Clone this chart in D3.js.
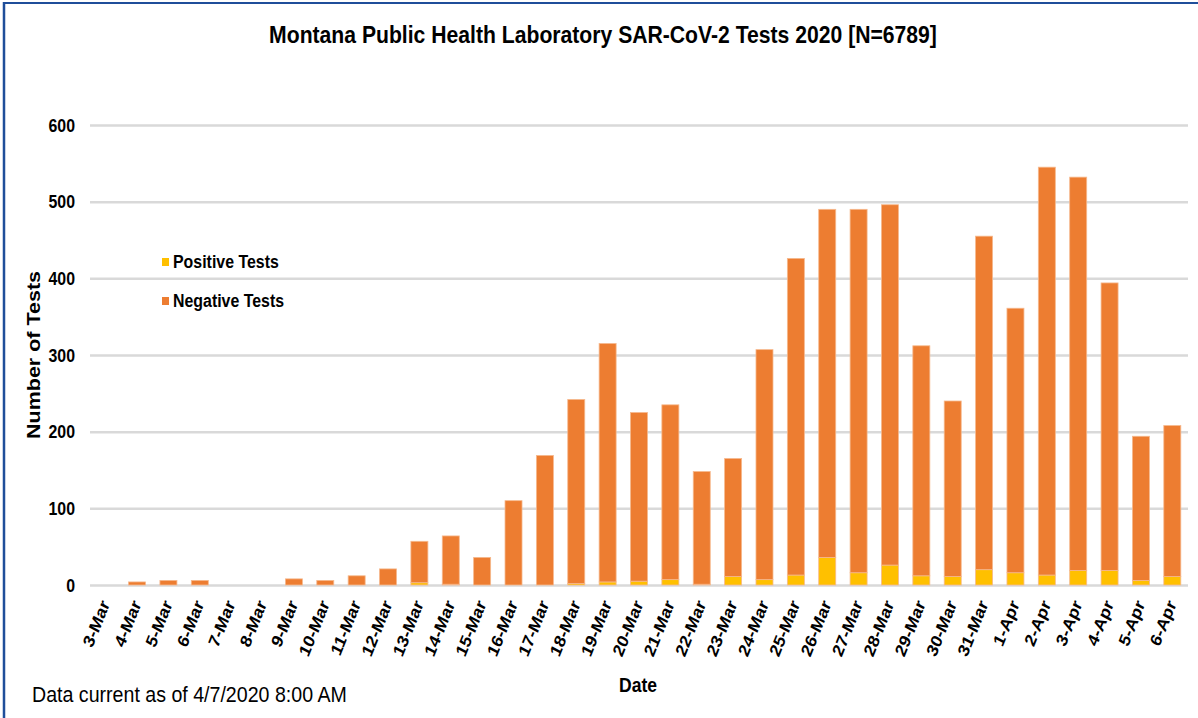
<!DOCTYPE html>
<html>
<head>
<meta charset="utf-8">
<script src="https://cdn.jsdelivr.net/npm/d3@7"></script>
<style>
  html, body { margin: 0; padding: 0; background: #fff; }
  svg { display: block; font-family: "Liberation Sans", Arial, sans-serif; }
</style>
</head>
<body>
<svg id="chart" width="1198" height="718"></svg>
<script>
// ---- Data ----
const dates = ['3-Mar','4-Mar','5-Mar','6-Mar','7-Mar','8-Mar','9-Mar','10-Mar','11-Mar','12-Mar',
  '13-Mar','14-Mar','15-Mar','16-Mar','17-Mar','18-Mar','19-Mar','20-Mar','21-Mar','22-Mar',
  '23-Mar','24-Mar','25-Mar','26-Mar','27-Mar','28-Mar','29-Mar','30-Mar','31-Mar',
  '1-Apr','2-Apr','3-Apr','4-Apr','5-Apr','6-Apr'];
const positiveTests = [0,0,0,0,0,0,0,0,0,0, 3,1,0,0,0,2,4,5,7,1, 11,7,13,36,16,26,12,11,20, 16,13,19,19,6,11];
const negativeTests = [0,4,6,6,0,0,8,6,12,21, 54,63,36,110,169,240,311,220,228,147, 154,300,413,454,474,470,300,229,435, 345,532,513,375,188,197];
const seriesNames = ['Positive Tests', 'Negative Tests'];
const seriesColors = ['#FFC000', '#ED7D31'];
const yTicks = [0, 100, 200, 300, 400, 500, 600];

const titleText = 'Montana Public Health Laboratory SAR-CoV-2 Tests 2020 [N=6789]';
const noteText = 'Data current as of 4/7/2020 8:00 AM';

// ---- Layout ----
const svg = d3.select('#chart');
const squeeze = 0.86; // the reference text is horizontally compressed
const plot = {left: 90, right: 1188, top: 125, bottom: 585};

const rows = dates.map((d, i) => ({date: d, 'Positive Tests': positiveTests[i], 'Negative Tests': negativeTests[i]}));
const stacked = d3.stack().keys(seriesNames)(rows);

const x = d3.scaleBand().domain(dates).range([plot.left, plot.right]).paddingInner(0.458).paddingOuter(0.229);
const y = d3.scaleLinear().domain([0, 600]).range([plot.bottom, plot.top]);
const color = d3.scaleOrdinal().domain(seriesNames).range(seriesColors);

function sq(px, py, extra) {
  return `translate(${px},${py}) scale(${squeeze},1)` + (extra ? ' ' + extra : '');
}

// frame (left & top edge only visible)
svg.append('line').attr('x1', 4).attr('x2', 4).attr('y1', 2).attr('y2', 718)
  .attr('stroke', '#1F4E9A').attr('stroke-width', 2.5);
svg.append('line').attr('x1', 3).attr('x2', 1198).attr('y1', 3).attr('y2', 3)
  .attr('stroke', '#1F4E9A').attr('stroke-width', 2);

// title
svg.append('text').attr('transform', sq(603, 43))
  .attr('text-anchor', 'middle').attr('font-size', 24.6).attr('font-weight', 'bold')
  .attr('fill', '#000').text(titleText);

// gridlines + y ticks
const yAxis = d3.axisLeft(y).tickValues(yTicks).tickSize(plot.left - plot.right).tickPadding(0);
const gy = svg.append('g').attr('transform', `translate(${plot.left},0)`).call(yAxis);
gy.select('.domain').remove();
gy.selectAll('.tick line').attr('stroke', '#D9D9D9').attr('stroke-width', 2.5);
gy.selectAll('.tick text')
  .attr('x', null).attr('dy', null)
  .attr('transform', sq(-15, 6))
  .attr('font-size', 18.5).attr('font-weight', 'bold').attr('fill', '#000')
  .attr('font-family', '"Liberation Sans", Arial, sans-serif');

// bars
svg.append('g').selectAll('g')
  .data(stacked)
  .join('g')
  .attr('fill', d => color(d.key))
  .selectAll('rect')
  .data(d => d)
  .join('rect')
  .attr('x', d => x(d.data.date))
  .attr('width', x.bandwidth())
  .attr('y', d => y(d[1]))
  .attr('height', d => y(d[0]) - y(d[1]))
  .attr('stroke', d => (d[1] - d[0]) > 0 ? '#F6B98E' : 'none')
  .attr('stroke-width', 0.8);

// x labels
const xAxis = d3.axisBottom(x).tickSize(0).tickPadding(0);
const gx = svg.append('g').attr('transform', `translate(0,${plot.bottom})`).call(xAxis);
gx.select('.domain').remove();
gx.selectAll('.tick text')
  .attr('y', null).attr('dy', null)
  .attr('text-anchor', 'end')
  .attr('transform', sq(4.5, 19, 'rotate(-65)'))
  .attr('font-size', 18.4).attr('font-weight', 'bold').attr('fill', '#000')
  .attr('font-family', '"Liberation Sans", Arial, sans-serif');

// axis titles
svg.append('text').attr('transform', sq(638, 692))
  .attr('text-anchor', 'middle').attr('font-size', 20.4).attr('font-weight', 'bold')
  .text('Date');
svg.append('text').attr('transform', sq(40, 355, 'rotate(-90)'))
  .attr('text-anchor', 'middle').attr('font-size', 21.5).attr('font-weight', 'bold')
  .text('Number of Tests');

// legend
const legend = svg.append('g').selectAll('g')
  .data(seriesNames)
  .join('g')
  .attr('transform', (d, i) => `translate(162,${258 + i * 39})`);
legend.append('rect').attr('width', 7).attr('height', 8).attr('fill', d => color(d));
legend.append('text').attr('transform', sq(11, 10))
  .attr('font-size', 18.5).attr('font-weight', 'bold').text(d => d);

// footnote
svg.append('text').attr('transform', sq(32, 702))
  .attr('font-size', 22.8).attr('fill', '#000').text(noteText);
</script>
</body>
</html>
